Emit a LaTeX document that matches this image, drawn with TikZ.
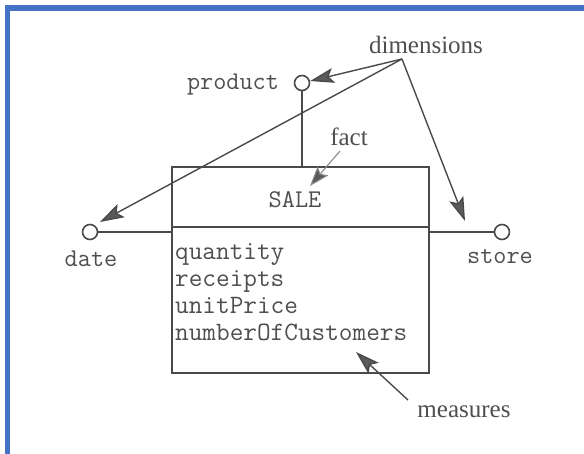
\documentclass[tikz,border=0pt]{standalone}
\usepackage{fontspec}
\setmainfont{Liberation Serif}
\usetikzlibrary{arrows.meta}
\definecolor{frameblue}{HTML}{4472C4}
\definecolor{ink}{HTML}{4A4A4A}
\definecolor{textgray}{HTML}{4F4F4F}
\definecolor{headgray}{HTML}{5A5A5A}
\definecolor{softgray}{HTML}{8A8A8A}
\begin{document}
\begin{tikzpicture}[x=1pt,y=-1pt,
  mono/.style={font=\fontsize{25.5}{27}\selectfont\ttfamily, text=textgray, inner sep=0pt},
  attr/.style={font=\fontsize{26.5}{27}\selectfont\ttfamily, text=textgray, inner sep=0pt, anchor=base west},
  serif/.style={font=\fontsize{25}{30}\selectfont, text=textgray, inner sep=0pt},
  port/.style={circle, draw=ink, line width=1.6pt, minimum size=15pt, inner sep=0pt, fill=white},
  factbox/.style={draw=ink, line width=1.8pt, minimum width=257pt, minimum height=206pt, inner sep=0pt},
  link/.style={draw=ink, line width=1.8pt},
  pointer/.style={draw=ink, line width=1.4pt, -{Stealth[length=24pt,width=15pt,inset=5pt,fill=headgray]}},
  softpointer/.style={draw=softgray, line width=1.1pt, -{Stealth[length=20pt,width=14pt,inset=4pt,fill=headgray]}},
]
\useasboundingbox (0,0) rectangle (584,453);
\clip (0,0) rectangle (584,453);
\fill[white] (0,0) rectangle (584,453);

% frame
\draw[frameblue, line width=5.5pt] (7.5,470) -- (7.5,8) -- (600,8);

% fact box with its divider
\node[factbox] (sale) at (300.5,270) {};
\draw[link] (sale.west |- 0,227) -- (sale.east |- 0,227);
\node[mono] (saletitle) at (295,200) {SALE};

% measures
\node[attr] (m1) at (175,259) {quantity};
\node[attr] (m2) at (175,286) {receipts};
\node[attr] (m3) at (175,313) {unitPrice};
\node[attr] (m4) at (175,340) {numberOfCustomers};

% dimensions
\node[port] (prod) at (302,83) {};
\node[port] (date) at (90,232) {};
\node[port] (store) at (502,232) {};
\node[mono] (prodlbl) at (233,85) {product};
\node[mono] (datelbl) at (91,259) {date};
\node[mono] (storelbl) at (500,257) {store};

\draw[link] (prod) -- (prod |- sale.north);
\draw[link] (date) -- (date -| sale.west);
\draw[link] (store) -- (store -| sale.east);

% annotations
\node[serif] (dimlbl) at (426,45) {dimensions};
\node[serif] (factlbl) at (349,137) {fact};
\node[serif] (measlbl) at (464,412) {measures};

\coordinate (dimsrc) at (402,59);
\coordinate (datetip) at (100,222);
\coordinate (storetip) at (465,221);
\coordinate (factfrom) at (340,151);
\coordinate (facttip) at (310,186);
\coordinate (measfrom) at (408,400);
\coordinate (meastip) at (356,352);

\draw[pointer] (dimsrc) -- (prod);
\draw[pointer] (dimsrc) -- (datetip);
\draw[pointer] (dimsrc) -- (storetip);
\draw[softpointer] (factfrom) -- (facttip);
\draw[pointer] (measfrom) -- (meastip);
\end{tikzpicture}
\end{document}
